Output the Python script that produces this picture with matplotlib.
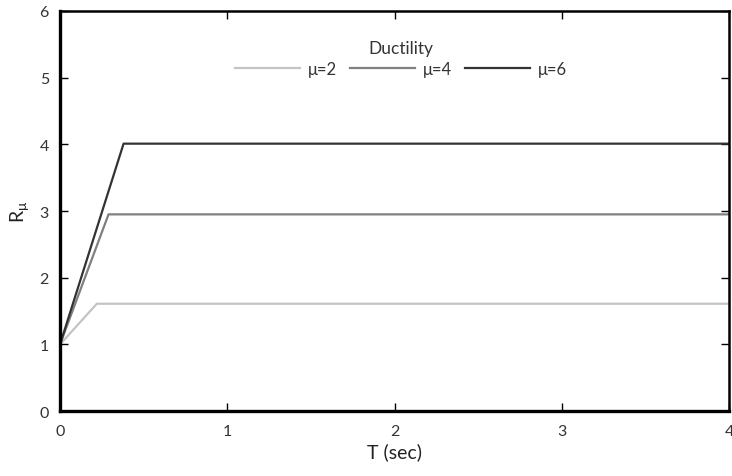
import numpy as np
import matplotlib.pyplot as plt

plt.rcParams['font.family'] = ['Lato', 'DejaVu Sans']
plt.rcParams['mathtext.default'] = 'regular'

# bilinear R-mu-T relation: rises from 1 at T=0 to a plateau
T_knee = [0.22, 0.29, 0.38]
R_plateau = [1.61, 2.95, 4.01]
T_max = 4.0
mu_labels = ['\u03bc=2', '\u03bc=4', '\u03bc=6']
colors = ['#c4c4c4', '#808080', '#333333']

fig = plt.figure(figsize=(7.32, 4.77), dpi=100)
ax = fig.add_axes([0.082, 0.136, 0.914, 0.839])

for tk, rp, lab, c in zip(T_knee, R_plateau, mu_labels, colors):
    ax.plot([0, tk, T_max], [1.0, rp, rp], color=c, lw=1.6, label=lab)

ax.set_xlim(0, 4)
ax.set_ylim(0, 6)
ax.set_xticks(np.arange(0, 5, 1))
ax.set_yticks(np.arange(0, 7, 1))
ax.tick_params(direction='in', top=True, right=True, length=6, width=1,
               labelsize=11.5, colors='black', labelcolor='#333333')
ax.tick_params(axis='x', pad=9)
ax.tick_params(axis='y', pad=8)

for side in ['left', 'bottom']:
    ax.spines[side].set_linewidth(2.4)
for side in ['top', 'right']:
    ax.spines[side].set_linewidth(1.8)

ax.set_xlabel('T (sec)', fontsize=14, color='#222222', labelpad=3)
ax.set_ylabel('R$_{\u03bc}$', fontsize=14, color='#222222', labelpad=6)

leg = ax.legend(title='Ductility', ncol=3, loc='upper center',
                bbox_to_anchor=(0.51, 0.965), frameon=False, fontsize=12,
                title_fontsize=12.5, handlelength=3.9, handletextpad=0.45,
                columnspacing=0.8, labelspacing=0.3)
for t in leg.get_texts():
    t.set_color('#333333')
leg.get_title().set_color('#333333')

fig.savefig('out.png', dpi=100)
